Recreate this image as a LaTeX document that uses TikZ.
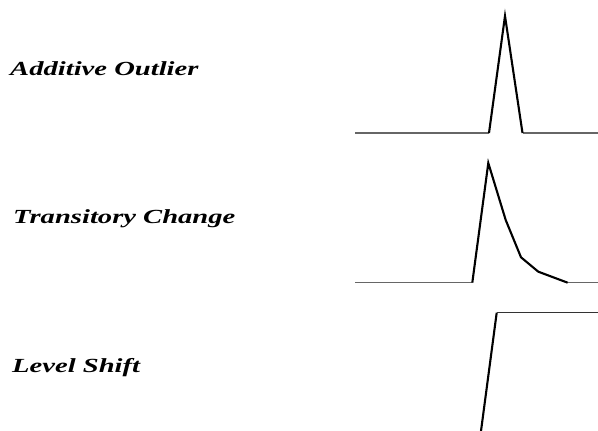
\documentclass[tikz,border=0pt]{standalone}
\usepackage{fontspec}
\setmainfont{Liberation Serif}
\begin{document}
\begin{tikzpicture}[x=1pt,y=-1pt,
  lbl/.style={anchor=base west,inner sep=0pt,font=\fontsize{20}{24}\selectfont\bfseries\itshape},
  flat/.style={line width=1.1pt,black!60},
  spike/.style={line width=2.1pt,black,line join=miter}]
\useasboundingbox (0,0) rectangle (598,431);
% labels
\node[lbl] (ao) at (10,75) {\scalebox{1.43}[1]{Additive Outlier}};
\node[lbl] (tc) at (13,223) {\scalebox{1.43}[1]{Transitory Change}};
\node[lbl] (ls) at (12,372) {\scalebox{1.43}[1]{Level Shift}};
% additive outlier
\coordinate (a0) at (355,133);
\coordinate (a1) at (489,133);
\coordinate (a2) at (505,16);
\coordinate (a3) at (522.5,133);
\coordinate (a4) at (598,133);
\draw[flat] (a0) -- (a1);
\draw[flat] (a3) -- (a4);
\draw[spike] (a1) -- (a2) -- (a3);
% transitory change
\coordinate (t0) at (355,282.7);
\coordinate (t1) at (472.3,282.7);
\coordinate (t2) at (488.3,163);
\coordinate (t3) at (505.7,220);
\coordinate (t4) at (521,257.3);
\coordinate (t5) at (538.3,271.7);
\coordinate (t6) at (567.7,282.7);
\coordinate (t7) at (598,282.7);
\draw[flat] (t0) -- (t1);
\draw[flat] (t6) -- (t7);
\draw[spike] (t1) -- (t2) -- (t3) -- (t4) -- (t5) -- (t6);
% level shift
\coordinate (l0) at (481,431);
\coordinate (l1) at (496.7,312.7);
\coordinate (l2) at (598,312.7);
\draw[spike] (l0) -- (l1);
\draw[flat,line width=1.4pt,black!80] (l1) -- (l2);
\end{tikzpicture}
\end{document}
